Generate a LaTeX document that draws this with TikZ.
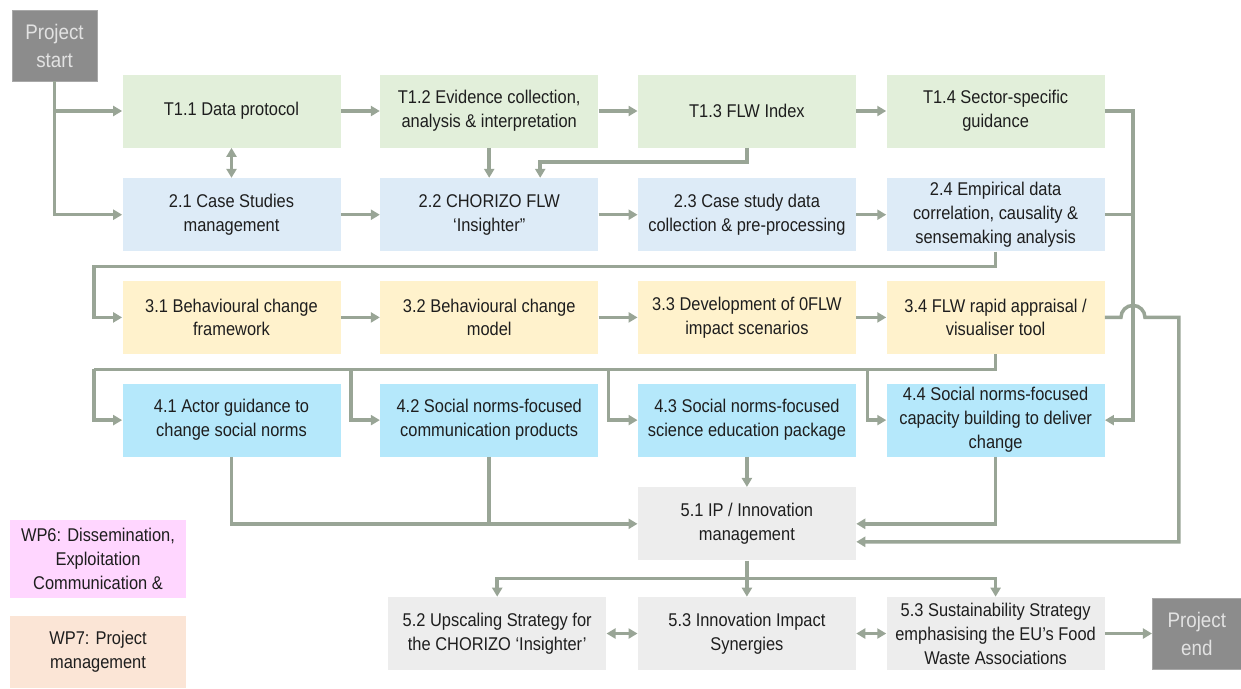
\documentclass[tikz,border=0pt]{standalone}
\usepackage{fontspec}
\setmainfont[FakeStretch=0.89]{Liberation Sans}
\usetikzlibrary{arrows.meta, positioning, calc}
\definecolor{SageLine}{HTML}{99A596}
\definecolor{LeafBg}{HTML}{E2EFDA}
\definecolor{SkyBg}{HTML}{DDEBF7}
\definecolor{CreamBg}{HTML}{FFF2CC}
\definecolor{AquaBg}{HTML}{B5E8FB}
\definecolor{CloudBg}{HTML}{EDEDED}
\definecolor{StoneGray}{HTML}{8C8C8C}
\definecolor{StoneEdge}{HTML}{A8A8A8}
\definecolor{StoneText}{HTML}{E2E2E2}
\definecolor{OrchidBg}{HTML}{FFD6FF}
\definecolor{PeachBg}{HTML}{FBE5D6}
\definecolor{InkText}{HTML}{1E1E1E}

\begin{document}
\begin{tikzpicture}[node distance=0.8cm, >={Triangle[length=0.18cm, width=0.2cm]},
    task/.style={minimum width=4.36cm, minimum height=1.46cm, inner sep=1pt, align=center, text=InkText, font=\fontsize{10.5}{13.6}\selectfont},
    wpone/.style={task, fill=LeafBg},
    wptwo/.style={task, fill=SkyBg},
    wpthree/.style={task, fill=CreamBg},
    wpfour/.style={task, fill=AquaBg},
    wpfive/.style={task, fill=CloudBg},
    milestone/.style={fill=StoneGray, draw=StoneEdge, line width=0.4pt, minimum width=1.7cm, minimum height=1.42cm, inner sep=1pt, align=center, text=StoneText, font=\fontsize{12}{15.9}\selectfont},
    sidebox/.style={task, minimum width=3.52cm},
    link/.style={line width=0.07cm, SageLine}]

  \useasboundingbox (0,0) rectangle (24.82,-13.76);

  \node[milestone] (start) at (1.09,-0.91) {Project\\start};

  \node[wpone] (t11) at (4.63,-2.22) {T1.1 Data protocol};
  \node[wpone, right=0.78cm of t11] (t12) {T1.2 Evidence collection,\\analysis \& interpretation};
  \node[wpone, right=0.78cm of t12] (t13) {T1.3 FLW Index};
  \node[wpone, right=0.6cm of t13] (t14) {T1.4 Sector-specific\\guidance};

  \node[wptwo, below=0.6cm of t11] (c21) {2.1 Case Studies\\management};
  \node[wptwo, below=0.6cm of t12] (c22) {2.2 CHORIZO FLW\\‘Insighter”};
  \node[wptwo, below=0.6cm of t13] (c23) {2.3 Case study data\\collection \& pre-processing};
  \node[wptwo, below=0.6cm of t14] (c24) {2.4 Empirical data\\correlation, causality \&\\sensemaking analysis};

  \node[wpthree, below=0.58cm of c21] (b31) {3.1 Behavioural change\\framework};
  \node[wpthree, below=0.58cm of c22] (b32) {3.2 Behavioural change\\model};
  \node[wpthree, below=0.58cm of c23] (b33) {3.3 Development of 0FLW\\impact scenarios};
  \node[wpthree, below=0.58cm of c24] (b34) {3.4 FLW rapid appraisal /\\visualiser tool};

  \node[wpfour, below=0.58cm of b31] (c41) {4.1 Actor guidance to\\change social norms};
  \node[wpfour, below=0.58cm of b32] (c42) {4.2 Social norms-focused\\communication products};
  \node[wpfour, below=0.58cm of b33] (c43) {4.3 Social norms-focused\\science education package};
  \node[wpfour, below=0.58cm of b34] (c44) {4.4 Social norms-focused\\capacity building to deliver\\change};

  \node[wpfive, below=0.6cm of c43] (s51) {5.1 IP / Innovation\\management};
  \node[wpfive, below=0.72cm of s51] (s53) {5.3 Innovation Impact\\Synergies};
  \node[wpfive, left=0.62cm of s53] (s52) {5.2 Upscaling Strategy for\\the CHORIZO ‘Insighter’};
  \node[wpfive, right=0.6cm of s53] (s54) {5.3 Sustainability Strategy\\emphasising the EU’s Food\\Waste Associations};
  \node[milestone, right=0.94cm of s54, minimum width=1.78cm] (finish) {Project\\end};

  \node[sidebox, fill=OrchidBg, minimum height=1.56cm] (wp6) at (1.96,-11.18) {WP6: Dissemination,\\Exploitation\\Communication \&};
  \node[sidebox, fill=PeachBg, minimum height=1.44cm] (wp7) at (1.96,-13.04) {WP7: Project\\management};

  \coordinate (trunk) at ([xshift=0.56cm]t14.east);
  \coordinate (hop) at (b34.east -| trunk);
  \coordinate (loop3) at ([xshift=-0.56cm]b31.west);
  \coordinate (busf) at ([yshift=-0.3cm]b34.south);
  \coordinate (d41) at ([xshift=-0.56cm]c41.west);
  \coordinate (d42) at ([xshift=-0.58cm]c42.west);
  \coordinate (d43) at ([xshift=-0.58cm]c43.west);
  \coordinate (d44) at ([xshift=-0.38cm]c44.west);
  \coordinate (bus5) at ([yshift=-0.36cm]s51.south);

  \draw[link, ->] (start.south) |- (c21.west);
  \draw[link, ->] (start.south |- t11.west) -- (t11.west);
  \draw[link, <->] (t11) -- (c21);
  \draw[link, ->] (t11) -- (t12);
  \draw[link, ->] (t12) -- (t13);
  \draw[link, ->] (t13) -- (t14);
  \draw[link, ->] (t12) -- (c22);
  \draw[link, ->] (t13.south) -- ++(0,-0.28) -| ([xshift=1.02cm]c22.north);

  \draw[link, ->] (c21) -- (c22);
  \draw[link, ->] (c22) -- (c23);
  \draw[link, ->] (c23) -- (c24);
  \draw[link, ->] (t14.east) -- (trunk) |- (c44.east);
  \draw[link] (c24.east) -- (c24.east -| trunk);
  \draw[link, ->] (c24.south) -- ++(0,-0.3) -| (loop3) -- (b31.west);

  \draw[link, ->] (b31) -- (b32);
  \draw[link, ->] (b32) -- (b33);
  \draw[link, ->] (b33) -- (b34);
  \draw[link, ->] (b34.east) -- ([xshift=-0.24cm]hop) arc[start angle=180, end angle=0, radius=0.24cm] -- ([xshift=0.92cm]hop) |- ([yshift=-0.36cm]s51.east);

  \draw[link] (b34.south) -- (busf) -- (busf -| d41);
  \draw[link, ->] (busf -| d41) -- (d41) -- (c41.west);
  \draw[link, ->] (busf -| d42) -- (d42) -- (c42.west);
  \draw[link, ->] (busf -| d43) -- (d43) -- (c43.west);
  \draw[link, ->] (busf -| d44) -- (d44) -- (c44.west);

  \draw[link, ->] (c41.south) |- (s51.west);
  \draw[link] (c42.south) -- (c42.south |- s51.west);
  \draw[link, ->] (c43) -- (s51);
  \draw[link, ->] (c44.south) |- (s51.east);

  \draw[link, ->] (s51) -- (s53);
  \draw[link, ->] (bus5) -| (s52.north);
  \draw[link, ->] (bus5) -| (s54.north);
  \draw[link, <->] (s52) -- (s53);
  \draw[link, <->] (s53) -- (s54);
  \draw[link, ->] (s54) -- (finish);
\end{tikzpicture}
\end{document}
